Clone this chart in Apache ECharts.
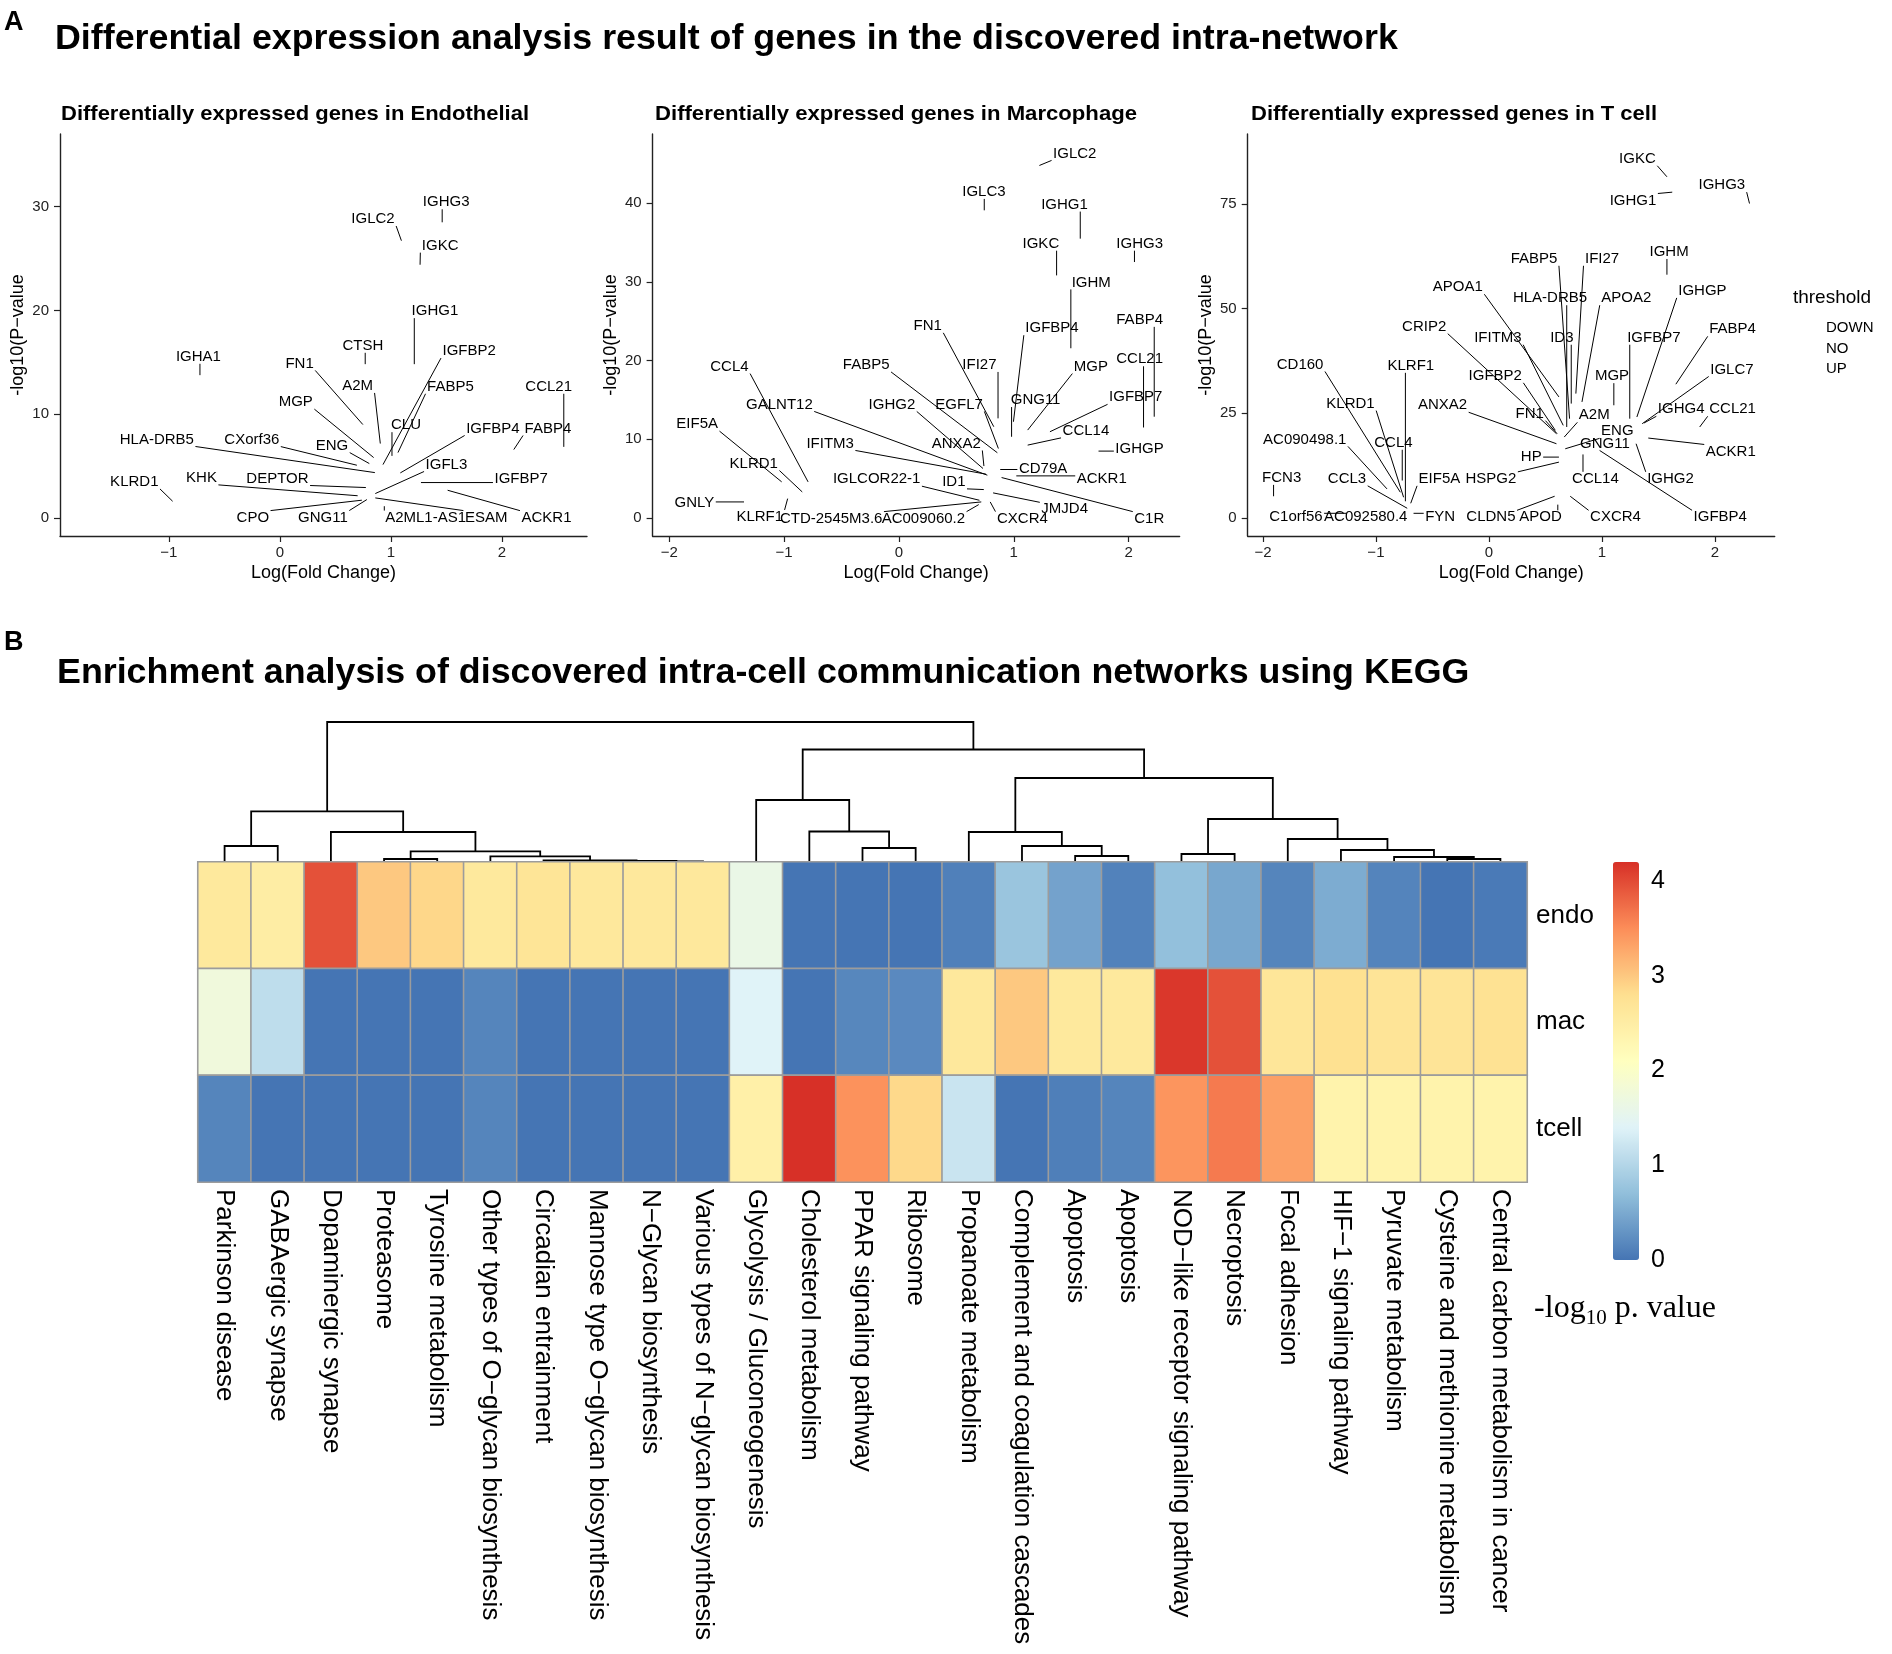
<!DOCTYPE html>
<html><head><meta charset="utf-8">
<script src="https://cdn.jsdelivr.net/npm/echarts@6/dist/echarts.min.js"></script>
<style>html,body{margin:0;padding:0;background:#fff}#c{width:1892px;height:1654px}</style>
</head><body><div id="c"></div>
<script>
// ---------------- Panel A data: volcano plots ----------------
const endoGenes = ['IGHG3','IGLC2','IGKC','IGHG1','CTSH','IGHA1','IGFBP2','FABP5','CLU','FN1','A2M','MGP','ENG','CXorf36','HLA-DRB5','IGFBP4','FABP4','CCL21','IGFL3','IGFBP7','ACKR1','KHK','DEPTOR','CPO','GNG11','A2ML1-AS1','ESAM','KLRD1'];
const endoLogFC = [1.461,1.094,1.262,1.210,0.768,-0.72,0.928,1.063,1.009,0.747,0.904,0.844,0.805,0.693,0.855,1.084,2.106,2.556,0.859,1.27,1.51,0.70,0.774,0.738,0.783,0.94,0.859,-0.966];
const endoNegLogP = [28.49,26.72,24.4,14.82,14.82,13.76,5.14,6.3,5.98,9.0,7.17,5.82,5.24,5.08,4.37,4.34,6.59,6.85,2.35,3.41,2.67,2.14,2.93,1.71,1.77,1.13,1.93,1.61];
const endoLabelX = [1.497,0.838,1.443,1.396,0.747,-0.734,1.704,1.535,1.135,0.177,0.70,0.143,0.469,-0.253,-1.108,1.917,2.413,2.42,1.499,2.172,2.40,-0.706,-0.022,-0.244,0.387,1.312,1.857,-1.311];
const endoLabelY = [30.42,28.81,26.24,19.93,16.59,15.53,16.08,12.64,8.94,14.89,12.72,11.16,6.97,7.55,7.56,8.62,8.62,12.64,5.15,3.8,0.03,3.86,3.8,0.035,0.035,0.035,0.035,3.47];

const macGenes = ['IGLC2','IGLC3','IGHG1','IGKC','IGHG3','IGHM','FABP4','CCL21','IGFBP7','FN1','CCL4','EIF5A','KLRD1','GNLY','KLRF1','CTD-2545M3.6','AC009060.2','GALNT12','IFITM3','FABP5','IGHG2','EGFL7','IFI27','ANXA2','IGFBP4','MGP','GNG11','CCL14','IGHGP','CD79A','ACKR1','IGLCOR22-1','ID1','JMJD4','CXCR4','C1R'];
const macLogFC = [1.223,0.743,1.579,1.373,2.051,1.497,2.223,2.13,1.315,0.826,-0.791,-1.021,-0.842,-1.349,-0.969,0.717,0.695,0.77,0.758,0.857,0.732,0.866,0.863,0.74,0.997,1.121,0.981,1.121,1.738,0.882,1.022,0.701,0.739,0.82,0.795,0.894];
const macNegLogP = [44.8,39.1,35.5,30.83,32.53,21.57,12.87,11.5,10.96,11.6,4.59,4.59,3.31,2.04,2.46,2.04,1.7,5.44,5.57,8.29,6.29,8.83,12.66,6.6,12.23,11.17,10.32,9.26,8.5,6.16,5.35,2.25,3.61,3.19,2.04,5.14];
const macLabelX = [1.531,0.74,1.442,1.236,2.096,1.675,2.096,2.096,2.062,0.25,-1.476,-1.757,-1.264,-1.781,-1.212,-0.59,0.213,-1.041,-0.599,-0.285,-0.061,0.524,0.701,0.499,1.333,1.672,1.19,1.628,2.095,1.255,1.766,-0.194,0.478,1.443,1.075,2.18];
const macLabelY = [46.33,41.44,39.83,34.86,34.86,29.94,25.18,20.17,15.33,24.42,19.24,11.93,6.92,1.95,0.13,-0.08,-0.08,14.43,9.47,19.45,14.43,14.43,19.45,9.47,24.12,19.24,14.99,11.07,8.75,6.29,4.93,4.93,4.59,1.1,-0.08,-0.08];

const tcellGenes = ['IGKC','IGHG1','IGHG3','IGHM','FABP5','IFI27','IGHGP','APOA1','HLA-DRB5','APOA2','CRIP2','IFITM3','ID3','IGFBP7','FABP4','IGLC7','CD160','KLRF1','IGFBP2','MGP','KLRD1','ANXA2','IGHG4','CCL21','FN1','A2M','ENG','AC090498.1','CCL4','GNG11','IGFBP4','CCL14','ACKR1','HP','IGHG2','FCN3','CCL3','EIF5A','HSPG2','C1orf56','AC092580.4','FYN','CLDN5','APOD','CXCR4'];
const tcellLogFC = [1.576,1.623,2.307,1.576,0.714,0.77,1.31,0.62,0.689,0.824,0.598,0.658,0.729,1.247,1.655,1.357,-0.784,-0.739,0.588,1.106,-0.755,0.598,1.373,1.866,0.604,0.667,0.676,-0.902,-0.767,1.027,0.98,0.833,1.411,0.62,1.303,-1.906,-0.723,-0.692,0.62,-1.263,-1.09,-0.667,0.582,0.61,0.72];
const tcellNegLogP = [81.48,77.81,75.1,58.1,23.72,29.71,24.12,28.91,21.73,27.72,20.13,22.12,27.32,23.72,31.95,22.52,6.15,3.99,20.93,26.92,4.95,17.73,22.68,21.73,20.13,19.33,16.53,6.95,8.95,17.73,16.13,15.18,19.09,14.54,17.73,5.19,2.32,3.51,13.34,1.12,0.16,1.12,5.19,3.19,5.19];
const tcellLabelX = [1.315,1.276,2.062,1.595,0.4,1.002,1.89,-0.275,0.541,1.216,-0.573,0.08,0.646,1.46,2.157,2.151,-1.671,-0.691,0.056,1.09,-1.225,-0.41,1.702,2.157,0.362,0.933,1.137,-1.63,-0.845,1.027,2.048,0.943,2.141,0.375,1.608,-1.834,-1.256,-0.438,0.018,-1.708,-1.09,-0.431,0.018,0.457,1.121];
const tcellLabelY = [85.79,75.82,79.49,63.53,61.9,61.9,54.23,55.11,52.48,52.48,45.69,43.05,43.05,43.05,45.05,35.46,36.66,36.34,33.95,33.87,27.32,26.92,25.96,25.96,24.92,24.52,20.69,18.77,17.97,17.73,0.16,9.35,15.89,14.54,9.35,9.58,9.35,9.35,9.35,0.16,0.16,0.16,0.16,0.16,0.16];

const volcanoTitles = ['Differentially expressed genes in Endothelial','Differentially expressed genes in Marcophage','Differentially expressed genes in T cell'];
const volcanoXTicks = [[-1,0,1,2],[-2,-1,0,1,2],[-2,-1,0,1,2]];
const volcanoYTicks = [[0,10,20,30],[0,10,20,30,40],[0,25,50,75]];
const volcanoXRange = [[-1.98,2.765],[-2.145,2.444],[-2.135,2.53]];
const volcanoYRange = [[-1.74,37.0],[-2.29,48.8],[-4.3,91.7]];
const thresholdLevels = ['DOWN','NO','UP'];

// ---------------- Panel B data: KEGG heatmap ----------------
const pathways = ['Parkinson disease','GABAergic synapse','Dopaminergic synapse','Proteasome','Tyrosine metabolism','Other types of O\u2212glycan biosynthesis','Circadian entrainment','Mannose type O\u2212glycan biosynthesis','N\u2212Glycan biosynthesis','Various types of N\u2212glycan biosynthesis','Glycolysis / Gluconeogenesis','Cholesterol metabolism','PPAR signaling pathway','Ribosome','Propanoate metabolism','Complement and coagulation cascades','Apoptosis','Apoptosis','NOD\u2212like receptor signaling pathway','Necroptosis','Focal adhesion','HIF\u22121 signaling pathway','Pyruvate metabolism','Cysteine and methionine metabolism','Central carbon metabolism in cancer'];
const cellTypes = ['endo','mac','tcell'];
const endoVals  = [2.6,2.5,3.95,3.0,2.88,2.6,2.69,2.62,2.62,2.62,1.62,0.0,0.0,0.0,0.1,0.78,0.43,0.12,0.72,0.47,0.15,0.52,0.14,0.0,0.05];
const macVals   = [1.75,1.1,0.0,0.0,0.0,0.15,0.0,0.0,0.0,0.0,1.4,0.0,0.17,0.19,2.62,3.0,2.6,2.6,4.15,3.95,2.66,2.78,2.7,2.7,2.76];
const tcellVals = [0.15,0.0,0.0,0.0,0.0,0.15,0.0,0.0,0.0,0.0,2.44,4.2,3.46,2.86,1.2,0.0,0.09,0.15,3.43,3.64,3.34,2.38,2.38,2.38,2.38];
// column dendrogram (hclust-style merges: negative = leaf number, positive = earlier merge)
const dendroMerges = [[-9,-10],[-8,1],[-7,2],[-4,-5],[-6,3],[4,5],[-1,-2],[-3,6],[7,8],[-13,-14],[-12,10],[-11,11],[-17,-18],[-16,13],[-15,14],[-19,-20],[-24,-25],[-23,17],[-22,18],[-21,19],[16,20],[15,21],[12,22],[9,23]];
const dendroHeights = [0.7,1.2,1.7,3,5.7,10.7,16,30,50.7,14,30.5,62,6,16,30,8,3,5,12,23,43,84,112.5,140];
const colorMin = 0, colorMax = 4.2;
const colorTicks = [0,1,2,3,4];
const palette = ['#4575B4','#91BFDB','#E0F3F8','#FFFFBF','#FEE090','#FC8D59','#D73027'];

// ---------------- helpers ----------------
const mctx = document.createElement('canvas').getContext('2d');
function textW(t, font){ mctx.font = font; return mctx.measureText(t).width; }
function fitSize(t, weight, fam, target, base){ const w = textW(t, weight+' '+base+'px '+fam); return base*target/w; }
const SANS = '"Liberation Sans", Arial, sans-serif';
const SERIF = '"Liberation Serif", "DejaVu Serif", serif';
const GENE_FONT = '15px ' + SANS;

function makeRender(names){
  return function(params, api){
    const i = params.dataIndex;
    const c = api.coord([api.value(0), api.value(1)]);
    const p = api.coord([api.value(2), api.value(3)]);
    const w = textW(names[i], GENE_FONT);
    const hw = w/2 + 1.5, hh = 7;
    const qx = Math.min(Math.max(p[0], c[0]-hw), c[0]+hw);
    const qy = Math.min(Math.max(p[1], c[1]-hh), c[1]+hh);
    const d = Math.hypot(p[0]-qx, p[1]-qy);
    const children = [];
    if (d > 4) children.push({type:'line', shape:{x1:p[0], y1:p[1], x2:qx, y2:qy}, style:{stroke:'#000', lineWidth:1}});
    children.push({type:'text', x:c[0], y:c[1], style:{text:names[i], font:GENE_FONT, fill:'#000', align:'center', verticalAlign:'middle', textAlign:'center', textVerticalAlign:'middle'}});
    return {type:'group', children:children};
  };
}

// dendrogram polylines
const nodes = [];
function nodePos(id){ return id < 0 ? {x: -id - 0.5, h: 0} : nodes[id-1]; }
const dendroLines = [];
dendroMerges.forEach(function(m, k){
  const a = nodePos(m[0]), b = nodePos(m[1]), h = dendroHeights[k];
  dendroLines.push({coords: [[a.x, a.h],[a.x, h],[b.x, h],[b.x, b.h]]});
  nodes.push({x: (a.x + b.x)/2, h: h});
});

const heatData = [];
[endoVals, macVals, tcellVals].forEach(function(row, r){
  row.forEach(function(v, c){ heatData.push([c, 2 - r, v]); });
});

// ---------------- layout ----------------
const panelLeft = [60, 652.6, 1247.7];
const panelTop = 134, panelW = 527, panelH = 402;
const grids = [], xAxes = [], yAxes = [], series = [];
const genesSets = [
  [endoGenes, endoLogFC, endoNegLogP, endoLabelX, endoLabelY],
  [macGenes, macLogFC, macNegLogP, macLabelX, macLabelY],
  [tcellGenes, tcellLogFC, tcellNegLogP, tcellLabelX, tcellLabelY]
];
const axisCol = '#222';
for (let i = 0; i < 3; i++){
  grids.push({left: panelLeft[i], top: panelTop, width: panelW, height: panelH});
  xAxes.push({type:'value', gridIndex:i, min:volcanoXRange[i][0], max:volcanoXRange[i][1],
    name:'Log(Fold Change)', nameLocation:'middle', nameGap:28, nameTextStyle:{fontSize:18, color:'#000', fontFamily:SANS},
    axisLine:{show:true, onZero:false, lineStyle:{color:axisCol, width:1.4}},
    axisTick:{show:true, length:6, lineStyle:{color:axisCol, width:1.2}, customValues:volcanoXTicks[i]},
    axisLabel:{fontSize:15, color:'#222', margin:9, customValues:volcanoXTicks[i], fontFamily:SANS, formatter: function(v){ return v < 0 ? '\u2212' + Math.abs(v) : String(v); }},
    splitLine:{show:false}});
  yAxes.push({type:'value', gridIndex:i, min:volcanoYRange[i][0], max:volcanoYRange[i][1],
    name:'-log10(P\u2212value', nameLocation:'middle', nameGap:33, nameRotate:90, nameTextStyle:{fontSize:18, color:'#000', fontFamily:SANS},
    axisLine:{show:true, onZero:false, lineStyle:{color:axisCol, width:1.4}},
    axisTick:{show:true, length:6, lineStyle:{color:axisCol, width:1.2}, customValues:volcanoYTicks[i]},
    axisLabel:{fontSize:15, color:'#222', margin:11, customValues:volcanoYTicks[i], fontFamily:SANS},
    splitLine:{show:false}});
  const s = genesSets[i];
  series.push({type:'custom', xAxisIndex:i, yAxisIndex:i, coordinateSystem:'cartesian2d',
    renderItem: makeRender(s[0]), encode:{x:0, y:1}, silent:true, clip:false,
    data: s[0].map(function(g, k){ return [s[3][k], s[4][k], s[1][k], s[2][k]]; })});
}
// dendrogram grid
const hmLeft = 198, hmTop = 862, hmW = 1329, hmH = 320, treeH = 140;
grids.push({left:hmLeft, top:hmTop - treeH, width:hmW, height:treeH});
xAxes.push({type:'value', gridIndex:3, min:0, max:pathways.length, show:false});
yAxes.push({type:'value', gridIndex:3, min:0, max:dendroHeights[dendroHeights.length-1], show:false});
series.push({type:'lines', coordinateSystem:'cartesian2d', xAxisIndex:3, yAxisIndex:3, polyline:true, silent:true,
  lineStyle:{color:'#000', width:1.8, opacity:1}, data: dendroLines});
// heatmap grid
grids.push({left:hmLeft, top:hmTop, width:hmW, height:hmH});
xAxes.push({type:'category', gridIndex:4, data:pathways, position:'bottom',
  axisLine:{show:false}, axisTick:{show:false}, splitLine:{show:false},
  axisLabel:{interval:0, rotate:-90, margin:7, fontSize:26, color:'#000', fontFamily:SANS}});
yAxes.push({type:'category', gridIndex:4, data:cellTypes.slice().reverse(), position:'right',
  axisLine:{show:false}, axisTick:{show:false}, splitLine:{show:false},
  axisLabel:{margin:9, fontSize:26, color:'#000', fontFamily:SANS}});
series.push({type:'heatmap', xAxisIndex:4, yAxisIndex:4, data:heatData, silent:true,
  itemStyle:{borderColor:'#9c9c9c', borderWidth:1.6}});
// colour bar label axis
const cbLeft = 1613, cbTop = 862, cbW = 26, cbH = 398;
grids.push({left:cbLeft, top:cbTop, width:cbW, height:cbH});
xAxes.push({type:'value', gridIndex:5, show:false});
yAxes.push({type:'value', gridIndex:5, min:colorMin, max:colorMax, position:'right',
  axisLine:{show:false}, axisTick:{show:false}, splitLine:{show:false},
  axisLabel:{customValues:colorTicks, fontSize:25, color:'#000', margin:12, fontFamily:SANS}});

// ---------------- graphic texts ----------------
const titleA = 'Differential expression analysis result of genes in the discovered intra-network';
const titleB = 'Enrichment analysis of discovered intra-cell communication networks using KEGG';
const sizeA = fitSize(titleA, 'bold', SANS, 1343, 32);
const sizeB = fitSize(titleB, 'bold', SANS, 1413, 32);
const subLeft = [61, 655, 1251], subW = [468, 482, 406];
const graphics = [
  {type:'text', x:4, y:23, style:{text:'A', font:'bold 27px '+SANS, fill:'#000', textVerticalAlign:'middle'}},
  {type:'text', x:55, y:39, style:{text:titleA, font:'bold '+sizeA.toFixed(2)+'px '+SANS, fill:'#000', textVerticalAlign:'middle'}},
  {type:'text', x:4, y:643, style:{text:'B', font:'bold 27px '+SANS, fill:'#000', textVerticalAlign:'middle'}},
  {type:'text', x:57, y:673, style:{text:titleB, font:'bold '+sizeB.toFixed(2)+'px '+SANS, fill:'#000', textVerticalAlign:'middle'}},
  {type:'text', x:1832, y:298, style:{text:'threshold', font:'19px '+SANS, fill:'#000', textAlign:'center', textVerticalAlign:'middle'}}
];
for (let i = 0; i < 3; i++){
  const f = 'bold 21px ' + SANS;
  const sx = subW[i] / textW(volcanoTitles[i], f);
  graphics.push({type:'text', x:subLeft[i], y:114, scaleX:sx, style:{text:volcanoTitles[i], font:f, fill:'#000', textVerticalAlign:'middle'}});
}
thresholdLevels.forEach(function(t, k){
  graphics.push({type:'text', x:1826, y:328 + k*20.5, style:{text:t, font:'15px '+SANS, fill:'#000', textVerticalAlign:'middle'}});
});
graphics.push({type:'text', x:1625, y:1309, style:{
  text:'{a|-log}{s|10}{a| p. value}', textAlign:'center', textVerticalAlign:'middle',
  rich:{a:{fontSize:32, fontFamily:SERIF, fill:'#000', lineHeight:40},
        s:{fontSize:21, fontFamily:SERIF, fill:'#000', verticalAlign:'bottom', lineHeight:40}}}});

const chart = echarts.init(document.getElementById('c'), null, {renderer:'canvas'});
chart.setOption({
  backgroundColor:'#fff',
  animation:false,
  textStyle:{fontFamily:SANS},
  grid:grids, xAxis:xAxes, yAxis:yAxes, series:series,
  visualMap:[{type:'continuous', min:colorMin, max:colorMax, seriesIndex:4, dimension:2,
    calculable:false, orient:'vertical', left:cbLeft, top:cbTop, itemWidth:cbW, itemHeight:cbH,
    padding:0, text:null, showLabel:false, inRange:{color:palette}}],
  graphic:graphics
});
</script></body></html>
